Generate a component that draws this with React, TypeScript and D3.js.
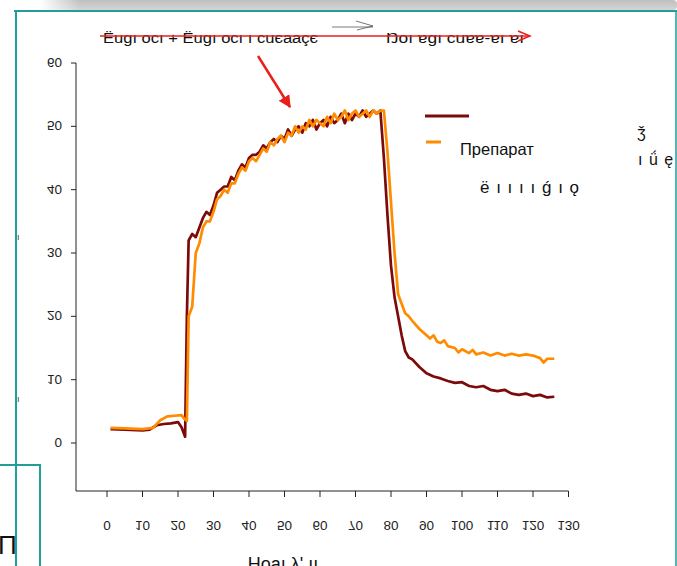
import React from "react";
import * as d3 from "d3";

const xTicks = [0, 10, 20, 30, 40, 50, 60, 70, 80, 90, 100, 110, 120, 130];
const yTicks = [0, 10, 20, 30, 40, 50, 60];

const darkTime = [1, 5, 10, 12, 14, 16, 18, 20, 21, 22, 22.5,
  23, 24, 25, 26, 27, 28, 29, 30, 31, 32, 33, 34, 35, 36, 37, 38, 39, 40, 41, 42, 43, 44, 45, 46, 47, 48, 49, 50,
  51, 52, 53, 54, 55, 56, 57, 58, 59, 60, 61, 62, 63, 64, 65, 66, 67, 68, 69, 70, 71, 72, 73, 74, 75, 76, 77,
  78, 79, 80, 81, 82, 83, 84, 85, 86, 88, 90, 92, 94, 96, 98, 100, 102, 104, 106, 108, 110, 112, 114, 116, 118, 120, 122, 124, 126];
const darkValue = [2.2, 2.1, 2.0, 2.1, 2.8, 3.0, 3.1, 3.3, 2.5, 1.0, 20,
  32, 33, 32.5, 34, 35.5, 36.5, 36, 37.5, 39.5, 40, 40.5, 40.5, 42, 41.5, 43, 44, 43.5, 45, 45.5, 45.5, 46, 47, 46.5, 47.5, 48, 47.5, 48.5, 48,
  49.5, 48.5, 49.5, 50, 49, 50.5, 50, 51, 49.5, 50.5, 51, 50, 51.5, 50.5, 51, 52, 50.5, 52, 51, 52, 51.5, 52.5, 51.5, 52, 52.5, 52, 52.5,
  45, 36, 28, 23, 20, 17, 14.5, 13.5, 13.2, 12, 11, 10.5, 10.2, 9.8, 9.5, 9.6, 9, 8.8, 9, 8.4, 8.2, 8.4, 7.8, 7.6, 7.8, 7.4, 7.6, 7.2, 7.3];

const orangeTime = [1, 5, 10, 13, 15, 17, 19, 21, 21.8, 22.5,
  23, 24, 25, 26, 27, 28, 29, 30, 31, 32, 33, 34, 35, 36, 37, 38, 39, 40, 41, 42, 43, 44, 45, 46, 47, 48, 49, 50,
  51, 52, 53, 54, 55, 56, 57, 58, 59, 60, 61, 62, 63, 64, 65, 66, 67, 68, 69, 70, 71, 72, 73, 74, 75, 76, 77, 78,
  79, 80, 81, 82, 83, 84, 85, 86, 88, 90, 91, 92, 93, 94, 95, 96, 98, 99, 100, 102, 103, 104, 106, 108, 110, 112, 114, 116, 118, 120, 122, 123, 124, 126];
const orangeValue = [2.4, 2.3, 2.2, 2.4, 3.6, 4.2, 4.3, 4.4, 3.8, 3.5,
  20, 21.5, 30, 31.5, 34, 35, 35, 36.5, 38.5, 39, 40, 39.5, 41, 41, 42.5, 43.5, 43, 44.5, 45, 44.5, 45.5, 46.5, 46, 47.5, 47, 48, 48.5, 47.5,
  49, 48.5, 50, 49, 50, 49.5, 51, 50, 51, 50.5, 50, 51.5, 50.5, 52, 51, 51.5, 52.5, 51, 52, 52.5, 51.5, 52, 52.5, 51.5, 52.5, 52, 52.5, 52.5,
  46, 38, 30, 23.5, 22, 20.5, 20, 19.3, 18, 17, 16.5, 17, 16, 15.8, 16.2, 15.3, 15, 14.3, 14.8, 14.2, 14.7, 14, 14.3, 13.8, 14.2, 13.8, 14.1, 13.8, 14, 13.8, 13.4, 12.7, 13.3, 13.3];

const seriesNames = ["", "Препарат"];
const seriesColors = ["#7d0a0a", "#ff8c00"];
const titleLeft = "Ёugı ocı  + Ёugı ocı ı cuєaaçє";
const titleRight = "Ŋoı ɐgı cuɐɐ-ɐı ɐı";
const xAxisLabel = "Ноаı λ' ıı";
const legendNote = "ё ı ı ı ı ǵ ı ǫ";
const edgeText1 = "ǯ";
const edgeText2 = "ı ǘ ę";

const FONT = "'Liberation Sans', Arial, sans-serif";
const TEAL = "#1f9e9a";

export default function App() {
  const x = d3.scaleLinear().domain([0, 130]).range([107, 568.5]);
  const y = d3.scaleLinear().domain([0, 60]).range([443, 63]);
  const line = d3.line<[number, number]>().x((d) => x(d[0])).y((d) => y(d[1]));
  const darkPts = darkTime.map((t, i) => [t, darkValue[i]] as [number, number]);
  const orangePts = orangeTime.map((t, i) => [t, orangeValue[i]] as [number, number]);
  const axisY = 491;
  const axisX = 76;

  return (
    <svg width={677} height={566} style={{ position: "absolute", left: 0, top: 0, display: "block", background: "#fff" }}
      fontFamily={FONT}>
      <defs>
        <linearGradient id="band" x1="0" x2="0" y1="0" y2="1">
          <stop offset="0" stopColor="#bfbfbf" />
          <stop offset="1" stopColor="#d4d4d4" />
        </linearGradient>
        <linearGradient id="bandFade" x1="0" x2="1" y1="0" y2="0">
          <stop offset="0" stopColor="#fff" stopOpacity="1" />
          <stop offset="1" stopColor="#fff" stopOpacity="0" />
        </linearGradient>
        <marker id="redHead" viewBox="0 0 10 10" refX="9" refY="5" markerWidth="5" markerHeight="5" orient="auto">
          <path d="M0,0 L10,5 L0,10 z" fill="#e8201c" />
        </marker>
      </defs>
      <rect x={0} y={0} width={677} height={566} fill="#fff" />
      {/* slide decorations */}
      <rect x={40} y={0} width={637} height={10} fill="url(#band)" rx={4} />
      <rect x={40} y={0} width={40} height={11} fill="url(#bandFade)" />
      <line x1={14} x2={677} y1={11} y2={11} stroke={TEAL} strokeWidth={2} />
      <line x1={16} x2={16} y1={11} y2={566} stroke={TEAL} strokeWidth={2} />
      <line x1={676} x2={676} y1={11} y2={566} stroke={TEAL} strokeWidth={1.5} />
      <polyline points="0,465 40,465 40,566" fill="none" stroke={TEAL} strokeWidth={2} />
      <text x={-2} y={554} fontSize={26} fill="#111">П</text>
      <text x={17} y={240} fontSize={9} fill="#333">ı</text>
      <text x={17} y={402} fontSize={9} fill="#333">ı</text>

      {/* axes */}
      <line x1={axisX} x2={axisX} y1={y(60)} y2={axisY} stroke="#222" strokeWidth={1} />
      <line x1={axisX} x2={x(130)} y1={axisY} y2={axisY} stroke="#222" strokeWidth={1} />
      {yTicks.map((t) => (
        <g key={"y" + t}>
          <line x1={axisX - 5} x2={axisX} y1={y(t)} y2={y(t)} stroke="#222" />
          <text transform={`translate(62,${y(t) - 5}) scale(1,-1)`} textAnchor="end" fontSize={13.5} fill="#222">{t}</text>
        </g>
      ))}
      {xTicks.map((t) => (
        <g key={"x" + t}>
          <line x1={x(t)} x2={x(t)} y1={axisY} y2={axisY + 6} stroke="#222" />
          <text transform={`translate(${x(t)},521) scale(1,-1)`} textAnchor="middle" fontSize={13.5} fill="#222">{t}</text>
        </g>
      ))}
      <text x={283} y={570} textAnchor="middle" fontSize={18} fill="#111">{xAxisLabel}</text>

      {/* series */}
      <path d={line(darkPts) || ""} fill="none" stroke={seriesColors[0]} strokeWidth={2.7} strokeLinejoin="round" />
      <path d={line(orangePts) || ""} fill="none" stroke={seriesColors[1]} strokeWidth={2.7} strokeLinejoin="round" />

      {/* legend */}
      <line x1={425} x2={469} y1={116} y2={116} stroke={seriesColors[0]} strokeWidth={3} />
      <text x={460} y={122} fontSize={16} fill="#111">{seriesNames[0]}</text>
      <line x1={426} x2={441} y1={142} y2={142} stroke={seriesColors[1]} strokeWidth={3} />
      <text x={460} y={155} fontSize={16.5} fill="#111">{seriesNames[1]}</text>
      <text x={480} y={193} fontSize={17} fill="#111" letterSpacing={1}>{legendNote}</text>
      <text x={637} y={138} fontSize={16} fill="#111">{edgeText1}</text>
      <text x={638} y={165} fontSize={16} fill="#111" letterSpacing={1}>{edgeText2}</text>

      {/* annotations */}
      <text x={103} y={43} fontSize={15.5} fill="#111" textLength={215} lengthAdjust="spacingAndGlyphs">{titleLeft}</text>
      <text x={386} y={43} fontSize={15.5} fill="#111" textLength={138} lengthAdjust="spacingAndGlyphs">{titleRight}</text>
      <line x1={100} x2={530} y1={36} y2={36} stroke="#e8201c" strokeWidth={1.5} />
      <polyline points="518,31 530,36 518,41" fill="none" stroke="#e8201c" strokeWidth={1.5} />
      <line x1={332} x2={373} y1={27} y2={27} stroke="#555" strokeWidth={0.8} />
      <polyline points="356,21 373,26 357,30" fill="none" stroke="#555" strokeWidth={0.8} />
      <line x1={258} x2={290} y1={56} y2={107} stroke="#e8201c" strokeWidth={2.5} markerEnd="url(#redHead)" />
    </svg>
  );
}
